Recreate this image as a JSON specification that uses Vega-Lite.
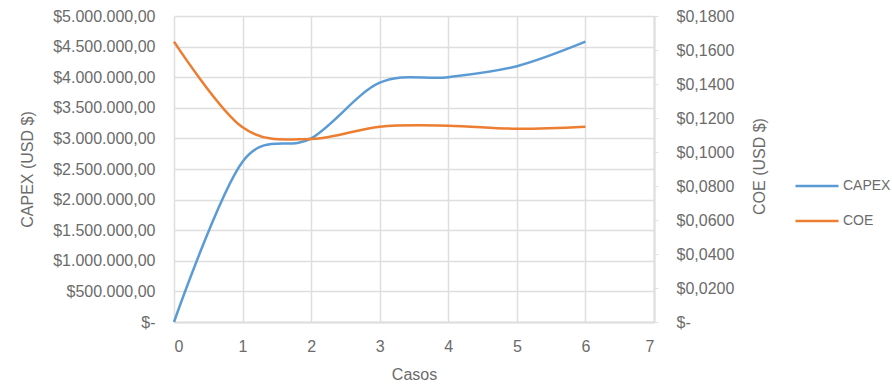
{
  "$schema": "https://vega.github.io/schema/vega-lite/v6.json",
  "width": 480,
  "height": 306,
  "autosize": {"type": "none"},
  "padding": {"left": 174, "top": 16, "right": 238, "bottom": 62},
  "config": {
    "locale": {"number": {"decimal": ",", "thousands": ".", "grouping": [3], "currency": ["$", ""]}},
    "font": "Liberation Sans",
    "view": {"stroke": null},
    "axis": {
      "labelColor": "#6b6b6b",
      "titleColor": "#6b6b6b",
      "labelFontSize": 16,
      "titleFontSize": 16,
      "titleFontWeight": "normal",
      "gridColor": "#dedede",
      "gridWidth": 1.5,
      "domainColor": "#dedede",
      "tickColor": "#dedede"
    },
    "legend": {"labelColor": "#6b6b6b", "labelFontSize": 14}
  },
  "data": {
    "values": [
      {"caso": 0, "CAPEX": 0, "COE": 0.1649},
      {"caso": 1, "CAPEX": 2620000, "COE": 0.1145},
      {"caso": 2, "CAPEX": 3000000, "COE": 0.1077},
      {"caso": 3, "CAPEX": 3910000, "COE": 0.1149},
      {"caso": 4, "CAPEX": 4000000, "COE": 0.1155},
      {"caso": 5, "CAPEX": 4180000, "COE": 0.1137},
      {"caso": 6, "CAPEX": 4580000, "COE": 0.1149}
    ]
  },
  "encoding": {
    "x": {
      "field": "caso",
      "type": "quantitative",
      "scale": {"domain": [0, 7], "nice": false},
      "axis": {
        "title": "Casos",
        "values": [0, 1, 2, 3, 4, 5, 6, 7],
        "grid": true,
        "ticks": false,
        "domainWidth": 2,
        "labelPadding": 16,
        "titlePadding": 12
      }
    }
  },
  "layer": [
    {
      "mark": {"type": "line", "interpolate": "cardinal", "strokeWidth": 2.5},
      "encoding": {
        "y": {
          "field": "CAPEX",
          "type": "quantitative",
          "scale": {"domain": [0, 5000000], "nice": false},
          "axis": {
            "orient": "left",
            "title": "CAPEX (USD $)",
            "values": [0, 500000, 1000000, 1500000, 2000000, 2500000, 3000000, 3500000, 4000000, 4500000, 5000000],
            "format": "$,.2f",
            "labelExpr": "datum.value === 0 ? '$-' : datum.label",
            "grid": true,
            "domain": false,
            "ticks": false,
            "labelPadding": 19,
            "titleX": -147,
            "titleY": 153,
            "titleBaseline": "middle"
          }
        },
        "color": {
          "datum": "CAPEX",
          "type": "nominal",
          "scale": {"domain": ["CAPEX", "COE"], "range": ["#5b9bd5", "#ed7d31"]},
          "legend": {
            "title": null,
            "orient": "none",
            "legendX": 620,
            "legendY": 147,
            "symbolType": "stroke",
            "symbolSize": 1849,
            "symbolStrokeWidth": 2.5,
            "rowPadding": 5,
            "labelOffset": 3
          }
        }
      }
    },
    {
      "mark": {"type": "line", "interpolate": "cardinal", "strokeWidth": 2.5},
      "encoding": {
        "y": {
          "field": "COE",
          "type": "quantitative",
          "scale": {"domain": [0, 0.18], "nice": false},
          "axis": {
            "orient": "right",
            "title": "COE (USD $)",
            "titleAngle": -90,
            "titleX": 105,
            "titleY": 150,
            "titleAlign": "center",
            "titleBaseline": "middle",
            "values": [0, 0.02, 0.04, 0.06, 0.08, 0.1, 0.12, 0.14, 0.16, 0.18],
            "format": "$,.4f",
            "labelExpr": "datum.value === 0 ? '$-' : datum.label",
            "grid": false,
            "domainWidth": 2,
            "tickSize": 4,
            "labelPadding": 18
          }
        },
        "color": {"datum": "COE", "type": "nominal"}
      }
    }
  ],
  "resolve": {"scale": {"y": "independent"}}
}
